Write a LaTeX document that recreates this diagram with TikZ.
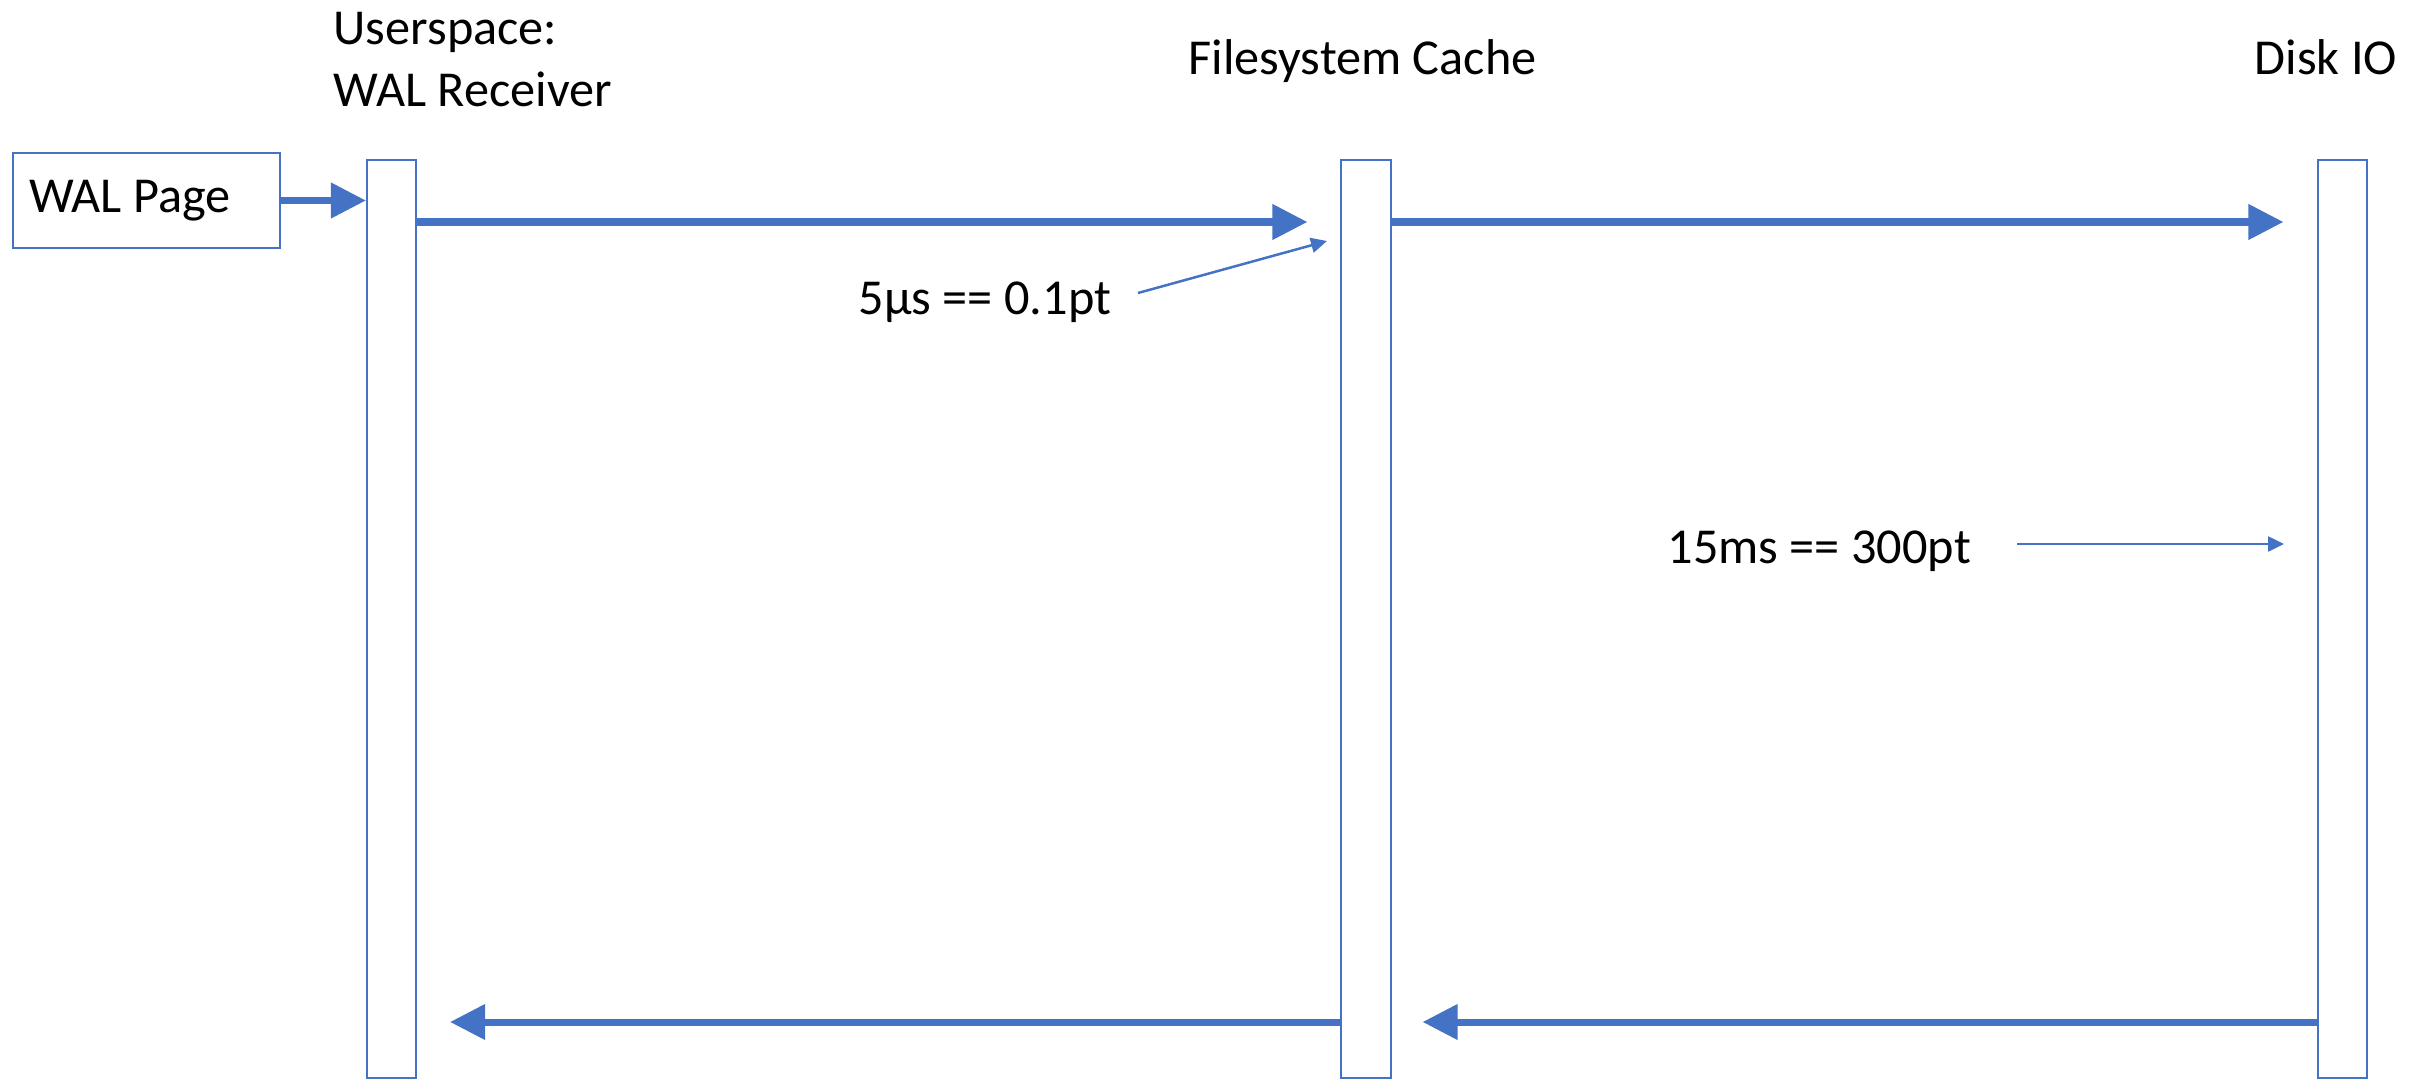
\documentclass[tikz,border=0pt]{standalone}
\usepackage{fontspec}
\setmainfont{Carlito}
\usetikzlibrary{arrows.meta}
\definecolor{officeblue}{HTML}{4472C4}
\begin{document}
\begin{tikzpicture}[x=0.01cm,y=-0.01cm,
  every node/.style={font=\fontsize{14.3pt}{16.5pt}\selectfont},
  txt/.style={anchor=base west, inner sep=0pt},
  lifeline/.style={draw=officeblue, line width=0.02cm, fill=white, minimum width=0.49cm, minimum height=9.18cm, inner sep=0pt},
  srcbox/.style={draw=officeblue, line width=0.02cm, minimum height=0.95cm, inner xsep=0.16cm, inner ysep=0pt},
  bigarrow/.style={draw=officeblue, line width=0.07cm, -{Triangle[length=0.35cm,width=0.34cm]}},
  thinarrow/.style={draw=officeblue, line width=0.025cm, -{Triangle[length=0.16cm,width=0.15cm]}}
]
\useasboundingbox (0,0) rectangle (2420,1079);
% headers
\node[txt] (h1a) at (333,45) {Userspace:};
\node[txt] (h1b) at (333,107) {WAL Receiver};
\node[txt] (h2) at (1188,75) {Filesystem Cache};
\node[txt] (h3) at (2254,75) {Disk IO};
% source box
\node[srcbox, anchor=west] (wal) at (12,200.5) {\makebox[2.35cm][l]{WAL Page}};
% lifelines
\node[lifeline] (l1) at (391.5,619) {};
\node[lifeline] (l2) at (1366,619) {};
\node[lifeline] (l3) at (2342,619) {};
% row coordinates
\coordinate (r1) at (0,222);
\coordinate (r2) at (0,1022);
% arrows
\draw[bigarrow] (wal.east) -- (wal.east -| l1.west);
\draw[bigarrow, shorten >=0.33cm] (l1.east |- r1) -- (l2.west |- r1);
\draw[bigarrow, shorten >=0.33cm] (l2.east |- r1) -- (l3.west |- r1);
\draw[bigarrow, shorten >=0.33cm] (l2.west |- r2) -- (l1.east |- r2);
\draw[bigarrow, shorten >=0.31cm] (l3.west |- r2) -- (l2.east |- r2);
% annotations
\node[txt] (lab1) at (858,315) {5µs == 0.1pt};
\node[txt] (lab2) at (1667,563) {15ms == 300pt};
\coordinate (t1s) at (1138,293);
\coordinate (t1e) at (1327,241);
\coordinate (t2s) at (2017,544);
\coordinate (t2e) at (2284,544);
\draw[thinarrow] (t1s) -- (t1e);
\draw[thinarrow] (t2s) -- (t2e);
\end{tikzpicture}
\end{document}
